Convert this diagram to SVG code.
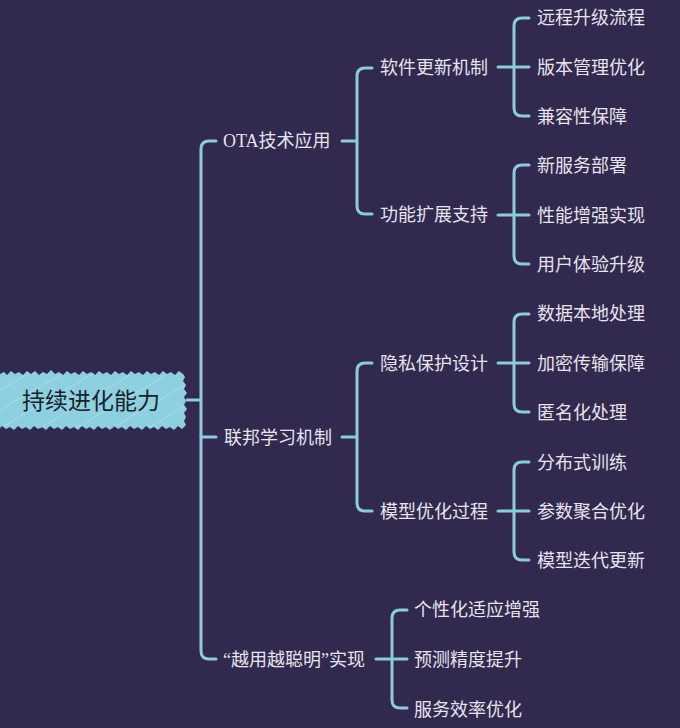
<svg xmlns="http://www.w3.org/2000/svg" width="680" height="728" viewBox="0 0 680 728">
<defs>
<style>
.t{font-family:"Liberation Serif","Noto Sans CJK SC",serif;font-size:18px;fill:#e6e3ee;dominant-baseline:central}
.root{font-family:"Liberation Serif","Noto Sans CJK SC",serif;font-size:23px;fill:#16232c;dominant-baseline:central}
.c{fill:none;stroke:#8ccbdc;stroke-width:3;stroke-linecap:round;stroke-linejoin:round}
.h{stroke:#c3e6ef;stroke-width:0.8;opacity:0.7}
</style>
</defs>
<rect width="680" height="728" fill="#322a4e"/>
<g id="connectors">
<path class="c" d="M187 400H201"/>
<path class="c" d="M216 141H209Q201 141 201 149V651Q201 659 209 659H216"/>
<path class="c" d="M201 437H216"/>
<path class="c" d="M342 141H357M372 68H365Q357 68 357 76V206Q357 214 365 214H372"/>
<path class="c" d="M342 437H357M372 363H365Q357 363 357 371V503Q357 511 365 511H372"/>
<path class="c" d="M376 659H407M407 610H400Q392 610 392 618V700Q392 708 400 708H407"/>
<path class="c" d="M498 67H529M529 18H522Q514 18 514 26V108Q514 116 522 116H529"/>
<path class="c" d="M498 215H529M529 165H522Q514 165 514 173V256Q514 264 522 264H529"/>
<path class="c" d="M498 363H529M529 314H522Q514 314 514 322V404Q514 412 522 412H529"/>
<path class="c" d="M498 511H529M529 462H522Q514 462 514 470V552Q514 560 522 560H529"/>
</g>
<g id="root">
<path d="M0 374L4 372L7 375L11 371L15 374L19 372L23 375L27 371L31 374L35 371L39 375L43 372L47 374L51 370L55 374L59 372L63 375L67 371L71 374L75 372L79 375L83 371L87 374L91 372L95 375L99 371L103 374L107 372L111 375L115 371L119 374L123 372L127 375L131 371L135 374L139 372L143 375L147 371L151 374L155 372L159 375L163 371L167 374L171 372L175 375L179 371L183 374L185 377L183 381L186 385L184 389L187 393L184 397L186 401L184 405L187 409L184 413L186 417L184 421L186 425L182 429L178 426L174 430L170 427L166 429L162 426L158 430L154 427L150 429L146 426L142 430L138 427L134 429L130 426L126 430L122 427L118 429L114 426L110 430L106 427L102 429L98 426L94 430L90 427L86 429L82 426L78 430L74 427L70 429L66 426L62 430L58 427L54 429L50 426L46 430L42 427L38 429L34 426L30 430L26 427L22 429L18 426L14 430L10 427L6 429L2 426L0 428Z" fill="#8ecfe0"/>
<g class="h">
<line x1="0" y1="390" x2="28" y2="374"/>
<line x1="0" y1="410" x2="62" y2="374"/>
<line x1="4" y1="426" x2="94" y2="373"/>
<line x1="40" y1="428" x2="130" y2="375"/>
<line x1="76" y1="428" x2="166" y2="375"/>
<line x1="112" y1="428" x2="185" y2="385"/>
<line x1="150" y1="427" x2="185" y2="406"/>
</g>
<text class="root" x="22" y="401">持续进化能力</text>
</g>
<g id="n-ota"><text class="t" x="223" y="141">OTA技术应用</text></g>
<g id="n-fl"><text class="t" x="224" y="438">联邦学习机制</text></g>
<g id="n-smart"><text class="t" x="223" y="660">“越用越聪明”实现</text></g>
<g id="n-sw"><text class="t" x="380" y="68">软件更新机制</text></g>
<g id="n-fe"><text class="t" x="380" y="215">功能扩展支持</text></g>
<g id="n-pp"><text class="t" x="380" y="364">隐私保护设计</text></g>
<g id="n-mo"><text class="t" x="380" y="512">模型优化过程</text></g>
<g id="l1"><text class="t" x="537" y="18">远程升级流程</text></g>
<g id="l2"><text class="t" x="537" y="68">版本管理优化</text></g>
<g id="l3"><text class="t" x="537" y="117">兼容性保障</text></g>
<g id="l4"><text class="t" x="537" y="166">新服务部署</text></g>
<g id="l5"><text class="t" x="537" y="216">性能增强实现</text></g>
<g id="l6"><text class="t" x="537" y="265">用户体验升级</text></g>
<g id="l7"><text class="t" x="537" y="314">数据本地处理</text></g>
<g id="l8"><text class="t" x="537" y="364">加密传输保障</text></g>
<g id="l9"><text class="t" x="537" y="413">匿名化处理</text></g>
<g id="l10"><text class="t" x="537" y="463">分布式训练</text></g>
<g id="l11"><text class="t" x="537" y="512">参数聚合优化</text></g>
<g id="l12"><text class="t" x="537" y="561">模型迭代更新</text></g>
<g id="l13"><text class="t" x="414" y="610">个性化适应增强</text></g>
<g id="l14"><text class="t" x="414" y="660">预测精度提升</text></g>
<g id="l15"><text class="t" x="414" y="710">服务效率优化</text></g>
</svg>
